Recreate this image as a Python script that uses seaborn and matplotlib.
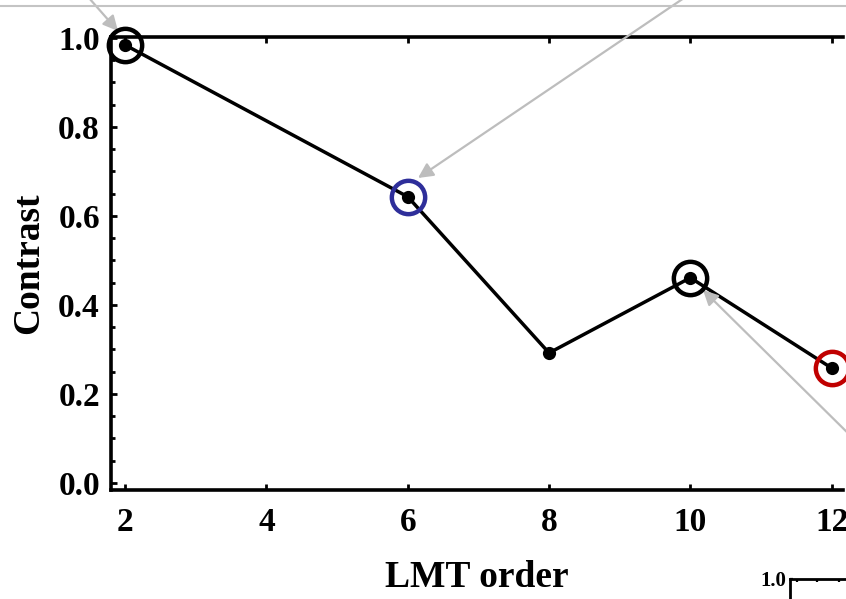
import matplotlib
matplotlib.use("Agg")
import matplotlib.pyplot as plt
from matplotlib.lines import Line2D
import seaborn as sns
import pandas as pd

# LMT order vs. contrast
lmt_order = [2, 6, 8, 10, 12]
contrast = [0.984, 0.643, 0.292, 0.461, 0.258]

# highlighted points and their ring colours
ring_order = [2, 6, 10, 12]
ring_contrast = [0.984, 0.643, 0.461, 0.258]
ring_colors = ["#000000", "#2e2e9a", "#000000", "#c00000"]

x_ticks = [2, 4, 6, 8, 10, 12]
y_ticks = [0.0, 0.2, 0.4, 0.6, 0.8, 1.0]

sns.set_style("ticks")
plt.rcParams["font.family"] = ["Liberation Serif", "DejaVu Serif"]
plt.rcParams["font.weight"] = "bold"
plt.rcParams["text.color"] = "black"
plt.rcParams["axes.labelcolor"] = "black"
plt.rcParams["xtick.color"] = "black"
plt.rcParams["ytick.color"] = "black"

W, H = 846, 599
fig = plt.figure(figsize=(W / 100, H / 100), dpi=100)
fig.patch.set_facecolor("white")

ax_l, ax_r, ax_t, ax_b = 111, 843, 37, 490
ax = fig.add_axes([ax_l / W, 1 - ax_b / H, (ax_r - ax_l) / W, (ax_b - ax_t) / H])

df = pd.DataFrame({"LMT order": lmt_order, "Contrast": contrast})
sns.lineplot(data=df, x="LMT order", y="Contrast", ax=ax, color="black",
             linewidth=2.5, marker="o", markersize=9.5, markeredgewidth=0,
             zorder=3, clip_on=False)

for xo, yo, c in zip(ring_order, ring_contrast, ring_colors):
    ax.plot([xo], [yo], marker="o", markersize=24, markerfacecolor="none",
            markeredgecolor=c, markeredgewidth=3.2, clip_on=False, zorder=4)

ax.set_xlim(1.8, 12.16)
ax.set_ylim(-0.016, 1.002)
ax.set_xticks(x_ticks)
ax.set_yticks(y_ticks)
ax.set_yticks([v / 20 for v in range(0, 21)], minor=True)
ax.set_yticklabels([f"{v:.1f}" for v in y_ticks])
ax.tick_params(axis="both", which="major", direction="in", length=4, width=2,
               labelsize=24, top=True, color="black", labelcolor="black")
ax.tick_params(axis="y", which="major", pad=8)
ax.tick_params(axis="x", which="major", pad=12)
ax.tick_params(axis="y", which="minor", direction="in", length=3, width=2)
for lab in ax.get_xticklabels() + ax.get_yticklabels():
    lab.set_fontweight("bold")

for side in ["left", "bottom", "top"]:
    ax.spines[side].set_linewidth(2.6)
    ax.spines[side].set_color("black")
ax.spines["right"].set_visible(False)

ax.set_xlabel("LMT order", fontsize=27, fontweight="bold", labelpad=16,
              color="black")
ax.set_ylabel("Contrast", fontsize=27, fontweight="bold", labelpad=9,
              color="black")
ax.grid(False)

# light guide line across the top
fig.add_artist(Line2D([0, 1], [1 - 5.5 / H, 1 - 5.5 / H],
                      transform=fig.transFigure, color="#c4c4c4", linewidth=1.5))

# gray pointer arrows entering from outside the panel
arrow_kw = dict(arrowstyle="-|>,head_length=0.9,head_width=0.45",
                color="#bdbdbd", lw=1.6, shrinkA=0, shrinkB=0)
for (x0, y0), (x1, y1) in [((89, -2), (118, 31)),
                           ((684, -2), (418, 178)),
                           ((860, 445), (703, 290))]:
    ax.annotate("", xy=(x1 / W, 1 - y1 / H), xycoords="figure fraction",
                xytext=(x0 / W, 1 - y0 / H), textcoords="figure fraction",
                arrowprops=arrow_kw, annotation_clip=False)

# neighbouring panel peeking in at the lower right
ax2 = fig.add_axes([790 / W, -0.2, 0.2, 0.2 + (1 - 579 / H)])
ax2.set_xlim(0, 1)
ax2.set_ylim(0, 1)
ax2.set_yticks([1.0])
ax2.set_yticklabels(["1.0"])
ax2.set_xticks([0.04, 0.16, 0.29])
ax2.set_xticklabels([])
ax2.tick_params(axis="both", direction="in", length=2.5, width=1.6, top=True,
                bottom=False, labelsize=15, pad=3, labelcolor="black")
ax2.xaxis.set_ticks_position("top")
for lab in ax2.get_yticklabels():
    lab.set_fontweight("bold")
for side in ["left", "top"]:
    ax2.spines[side].set_linewidth(2)
    ax2.spines[side].set_color("black")
ax2.spines["right"].set_visible(False)
ax2.spines["bottom"].set_visible(False)
ax2.patch.set_alpha(0)

fig.savefig("out.png", dpi=100, facecolor="white")
